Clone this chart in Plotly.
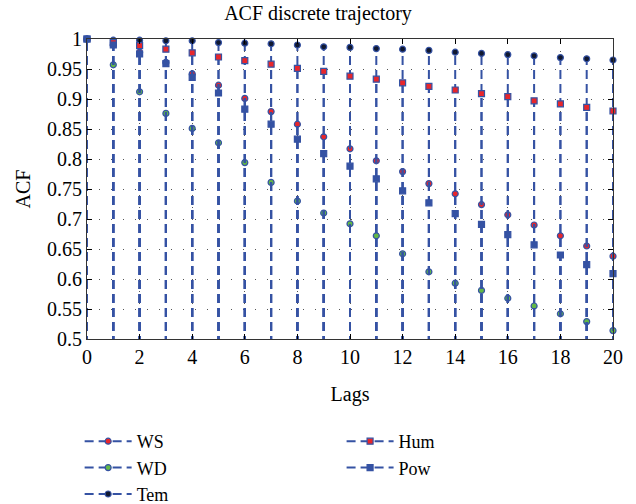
import plotly.graph_objects as go

lags = list(range(0, 21))

ws = [1, 0.990, 0.978, 0.961, 0.942, 0.923, 0.901, 0.879, 0.858, 0.837, 0.817,
      0.797, 0.779, 0.759, 0.742, 0.724, 0.707, 0.690, 0.672, 0.655, 0.638]
wd = [1, 0.957, 0.912, 0.876, 0.851, 0.827, 0.794, 0.761, 0.730, 0.710, 0.692,
      0.672, 0.642, 0.612, 0.593, 0.581, 0.568, 0.555, 0.542, 0.529, 0.514]
tem = [1, 0.998, 0.998, 0.997, 0.997, 0.994, 0.993, 0.992, 0.990, 0.987, 0.986,
       0.984, 0.983, 0.981, 0.978, 0.976, 0.974, 0.972, 0.969, 0.967, 0.965]
hum = [1, 0.994, 0.989, 0.983, 0.977, 0.970, 0.964, 0.958, 0.951, 0.946, 0.938,
       0.933, 0.927, 0.921, 0.915, 0.909, 0.904, 0.897, 0.892, 0.886, 0.880]
pow_ = [1, 0.990, 0.975, 0.959, 0.936, 0.910, 0.883, 0.858, 0.833, 0.809, 0.788,
        0.767, 0.747, 0.727, 0.709, 0.691, 0.674, 0.657, 0.640, 0.624, 0.609]

baseline = 0.0
x_ticks = list(range(0, 21, 2))
y_ticks = [0.5, 0.55, 0.6, 0.65, 0.7, 0.75, 0.8, 0.85, 0.9, 0.95, 1]
y_ticktext = ["0.5", "0.55", "0.6", "0.65", "0.7", "0.75", "0.8", "0.85", "0.9", "0.95", "1"]

BLUE = "#3552A3"
FONT = "Liberation Serif"

series = [
    ("WS", ws, "circle", "#E8262B", "legend"),
    ("WD", wd, "circle", "#62B846", "legend"),
    ("Tem", tem, "circle", "#101830", "legend"),
    ("Hum", hum, "square", "#E8262B", "legend2"),
    ("Pow", pow_, "square", BLUE, "legend2"),
]


def stems(xs, ys, base):
    sx, sy = [], []
    for x, y in zip(xs, ys):
        sx += [x, x, None]
        sy += [base, y, None]
    return sx, sy


fig = go.Figure()
for name, vals, sym, fill, leg in series:
    sx, sy = stems(lags, vals, baseline)
    fig.add_trace(go.Scatter(
        x=sx, y=sy, name=name, mode="lines+markers",
        line=dict(color=BLUE, width=2, dash="9px,5px"),
        marker=dict(symbol=sym, size=6, color=fill,
                    line=dict(color=BLUE, width=1.2)),
        cliponaxis=False, legend=leg,
    ))

legend_common = dict(yanchor="top", xanchor="left",
                     font=dict(family=FONT, size=18), itemwidth=47,
                     bgcolor="rgba(0,0,0,0)", tracegroupgap=0)

fig.update_layout(
    width=636, height=504,
    margin=dict(l=87, r=23, t=39, b=165, autoexpand=False),
    paper_bgcolor="white", plot_bgcolor="white",
    font=dict(family=FONT, size=20, color="black"),
    title=dict(text="ACF discrete trajectory", x=0.5, xanchor="center",
               y=1, yref="paper", yanchor="bottom", pad=dict(b=19),
               font=dict(family=FONT, size=20, color="black")),
    legend=dict(x=-0.014, y=-0.28, **legend_common),
    legend2=dict(x=0.484, y=-0.28, **legend_common),
    showlegend=True,
)

fig.update_xaxes(
    range=[0, 20], tickvals=x_ticks, ticktext=[str(v) for v in x_ticks],
    ticks="inside", ticklen=5, tickcolor="black", mirror="allticks",
    showline=True, linecolor="#333333", linewidth=1.2,
    showgrid=True, gridcolor="#555555", griddash="1px,11px", gridwidth=1,
    zeroline=False, tickfont=dict(family=FONT, size=20),
    title=dict(text="Lags", font=dict(family=FONT, size=20), standoff=19),
)
fig.update_yaxes(
    range=[0.5, 1], tickvals=y_ticks, ticktext=y_ticktext,
    ticks="inside", ticklen=5, tickcolor="black", mirror="allticks",
    showline=True, linecolor="#333333", linewidth=1.2,
    showgrid=True, gridcolor="#555555", griddash="1px,11px", gridwidth=1,
    zeroline=False, tickfont=dict(family=FONT, size=20),
    title=dict(text="ACF", font=dict(family=FONT, size=20), standoff=10),
)

fig.write_html("out.html")
